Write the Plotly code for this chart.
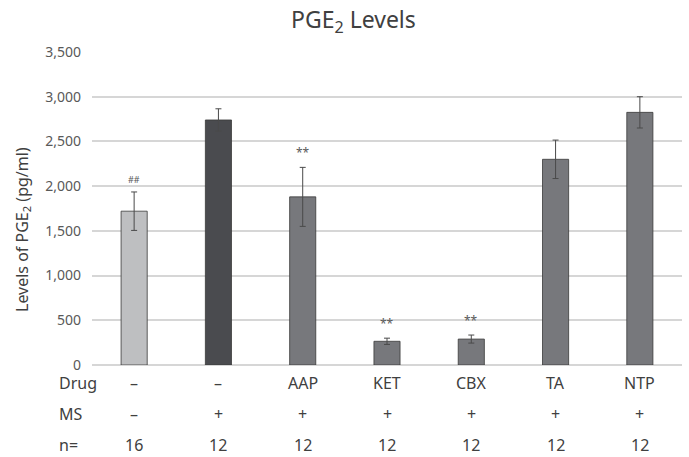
import plotly.graph_objects as go

drug = ["–", "–", "AAP", "KET", "CBX", "TA", "NTP"]
ms = ["–", "+", "+", "+", "+", "+", "+"]
n = ["16", "12", "12", "12", "12", "12", "12"]
values = [1720, 2740, 1880, 265, 290, 2300, 2825]
errors = [215, 125, 330, 35, 45, 215, 175]
marks = ["##", "", "**", "**", "**", "", ""]
colors = ["#bebfc1", "#4a4b4f", "#77787c", "#77787c", "#77787c", "#77787c", "#77787c"]
yticks = [0, 500, 1000, 1500, 2000, 2500, 3000, 3500]

FONT = "Noto Sans"
xs = list(range(len(values)))

fig = go.Figure()
fig.add_trace(go.Bar(
    x=xs, y=values, width=0.31,
    marker=dict(color=colors, line=dict(color="#3a3a3a", width=0.8)),
    error_y=dict(type="data", array=errors, visible=True, color="#4a4a4a", thickness=1, width=3),
    showlegend=False,
))

annotations = []
for i, (v, e, m) in enumerate(zip(values, errors, marks)):
    if m:
        annotations.append(dict(x=i, y=v + e, xref="x", yref="y", text=m, showarrow=False,
                                yanchor="bottom", yshift=4,
                                font=dict(family=FONT, size=12 if m == "**" else 9, color="#595959")))

rows = [("Drug", drug, 383), ("MS", ms, 414), ("n=", n, 445)]
H_PLOT = 313
for label, vals, py in rows:
    yp = (365 - py) / H_PLOT
    annotations.append(dict(x=(57 - 92) / 590, y=yp, xref="paper", yref="paper", text=label,
                            showarrow=False, xanchor="left", yanchor="middle",
                            font=dict(family=FONT, size=16, color="#404040")))
    for i, t in enumerate(vals):
        annotations.append(dict(x=i, y=yp, xref="x", yref="paper", text=t, showarrow=False,
                                xanchor="center", yanchor="middle",
                                font=dict(family=FONT, size=16, color="#404040")))

annotations.append(dict(x=(22 - 92) / 590, y=(365 - 230) / H_PLOT, xref="paper", yref="paper",
                        text="Levels of PGE<sub>2</sub> (pg/ml)", textangle=-90, showarrow=False,
                        xanchor="center", yanchor="middle",
                        font=dict(family=FONT, size=16, color="#404040")))
annotations.append(dict(x=(353 - 92) / 590, y=(365 - 1) / H_PLOT, xref="paper", yref="paper",
                        text="PGE<sub>2</sub> Levels", showarrow=False,
                        xanchor="center", yanchor="top",
                        font=dict(family=FONT, size=23, color="#404040")))

fig.update_layout(
    width=689, height=457,
    margin=dict(l=92, r=7, t=52, b=92),
    paper_bgcolor="white", plot_bgcolor="white",
    annotations=annotations,
    bargap=0.5,
)
fig.update_xaxes(range=[-0.5, 6.5], showticklabels=False, showgrid=False, zeroline=False,
                 showline=False, ticks="")
fig.update_yaxes(range=[0, 3500], tickvals=yticks, ticktext=[f"{v:,}" for v in yticks],
                 showgrid=True, gridcolor="#d6d6d6", gridwidth=1.5,
                 zeroline=True, zerolinecolor="#d6d6d6", zerolinewidth=1.5,
                 showline=False, ticks="", ticklabelstandoff=10,
                 tickfont=dict(family=FONT, size=14, color="#595959"))

fig.write_html("out.html")
